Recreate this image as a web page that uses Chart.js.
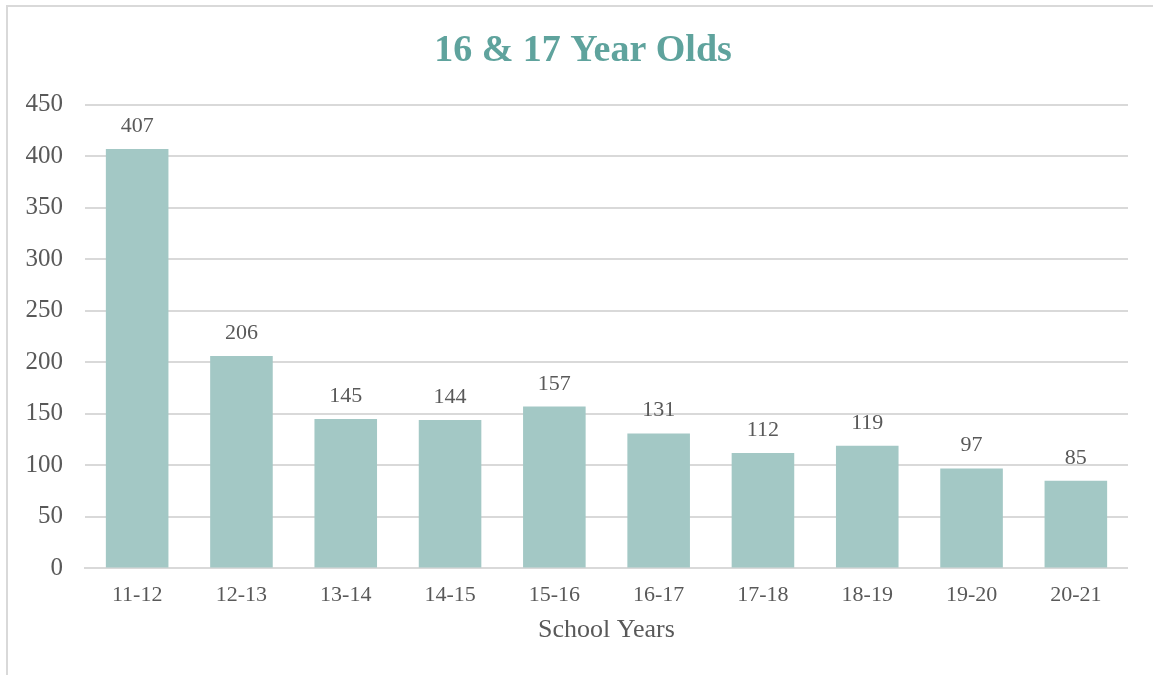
<!DOCTYPE html>
<html>
<head>
<meta charset="utf-8">
<script src="https://cdn.jsdelivr.net/npm/chart.js@4"></script>
<style>
    html, body { margin: 0; padding: 0; background: #fff; }
    #wrap { position: relative; width: 1153px; height: 675px; overflow: hidden; }
    #frame { position: absolute; left: 6px; top: 5px; width: 1200px; height: 700px;
             border-top: 2px solid #d9d9d9; border-left: 2px solid #d9d9d9; }
    #chart { position: absolute; left: 0; top: 0; }
</style>
</head>
<body>
<div id="wrap">
    <div id="frame"></div>
    <canvas id="chart" width="1128" height="675"></canvas>
</div>
<script>
    const titulo = "16 & 17 Year Olds";
    const tituloEje = "School Years";
    const categorias = ["11-12", "12-13", "13-14", "14-15", "15-16", "16-17", "17-18", "18-19", "19-20", "20-21"];
    const valores = [407, 206, 145, 144, 157, 131, 112, 119, 97, 85];

    const fuente = "'Liberation Serif', 'DejaVu Serif', serif";
    const gris = "#595959";

    // etiquetas encima de cada barra
    const etiquetas = {
        id: "etiquetas",
        afterLayout(chart) {
            // el título del original está algo desplazado a la derecha
            if (chart.titleBlock) chart.titleBlock.left = 38;
        },
        afterDatasetsDraw(chart) {
            const ctx = chart.ctx;
            const meta = chart.getDatasetMeta(0);
            ctx.save();
            ctx.font = "22px " + fuente;
            ctx.fillStyle = gris;
            ctx.textAlign = "center";
            ctx.textBaseline = "alphabetic";
            meta.data.forEach((bar, i) => {
                ctx.fillText(String(valores[i]), bar.x, bar.y - 17);
            });
            ctx.restore();
        }
    };

    new Chart(document.getElementById("chart").getContext("2d"), {
        type: "bar",
        data: {
            labels: categorias,
            datasets: [{
                data: valores,
                backgroundColor: "#a3c8c5",
                categoryPercentage: 1,
                barPercentage: 0.6
            }]
        },
        options: {
            responsive: false,
            animation: false,
            layout: { padding: { top: 8, right: 0, bottom: 29, left: 0 } },
            plugins: {
                legend: { display: false },
                tooltip: { enabled: false },
                title: {
                    display: true,
                    text: titulo,
                    color: "#5fa39d",
                    font: { family: fuente, size: 38, weight: "bold" },
                    padding: { top: 20, bottom: 31 }
                }
            },
            scales: {
                x: {
                    grid: { display: false, drawTicks: false },
                    border: { color: "#d9d9d9", width: 2 },
                    ticks: { color: gris, font: { family: fuente, size: 22 }, padding: 14, maxRotation: 0 },
                    title: {
                        display: true,
                        text: tituloEje,
                        color: gris,
                        font: { family: fuente, size: 26 },
                        padding: { top: -8, bottom: 0 }
                    }
                },
                y: {
                    min: 0,
                    max: 450,
                    grid: { color: "#d9d9d9", lineWidth: 2, drawTicks: false },
                    border: { display: false },
                    ticks: { stepSize: 50, color: gris, font: { family: fuente, size: 25 }, padding: 22 },
                    afterFit(scale) { scale.width = 85; }
                }
            }
        },
        plugins: [etiquetas]
    });
</script>
</body>
</html>
